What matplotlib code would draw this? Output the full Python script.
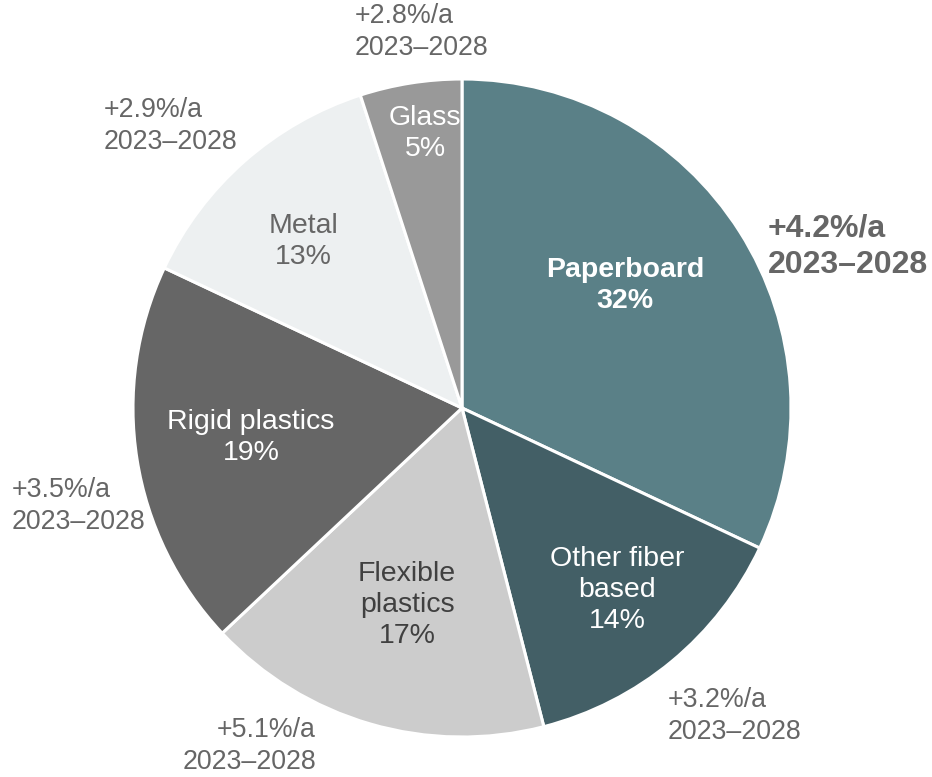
import matplotlib
matplotlib.use("Agg")
import matplotlib.pyplot as plt

# packaging share by material, with growth rate 2023-2028
materials = ["Paperboard", "Other fiber\nbased", "Flexible\nplastics", "Rigid plastics", "Metal", "Glass"]
shares = [32, 14, 17, 19, 13, 5]
growth = ["+4.2%/a", "+3.2%/a", "+5.1%/a", "+3.5%/a", "+2.9%/a", "+2.8%/a"]
period = "2023\u20132028"

colors = ["#5a8087", "#435f66", "#cccccc", "#666666", "#edf0f1", "#999999"]
inner_colors = ["white", "white", "#404040", "white", "#666666", "white"]
gray = "#666666"

plt.rcParams["font.family"] = ["Liberation Sans", "DejaVu Sans"]

fig = plt.figure(figsize=(9.32, 7.77), dpi=100)
ax = fig.add_axes([0, 0, 1, 1])

ax.pie(shares, colors=colors, startangle=90, counterclock=False, radius=1,
       wedgeprops=dict(edgecolor="white", linewidth=2.2))

# label positions in pie-radius units
inner_pos = [(0.495, 0.371), (0.471, -0.553), (-0.167, -0.599),
             (-0.641, -0.091), (-0.483, 0.505), (-0.112, 0.834)]
outer_pos = [(0.930, 0.489, "left"), (0.626, -0.936, "left"), (-0.444, -1.027, "right"),
             (-1.368, -0.298, "left"), (-1.088, 0.857, "left"), (-0.325, 1.143, "left")]

for i, name in enumerate(materials):
    bold = i == 0
    x, y = inner_pos[i]
    ax.text(x, y, "%s\n%d%%" % (name, shares[i]), ha="center", va="center",
            multialignment="center", color=inner_colors[i], fontsize=20.5,
            fontweight="bold" if bold else "normal", linespacing=1.25)
    ox, oy, al = outer_pos[i]
    ax.text(ox, oy, "%s\n%s" % (growth[i], period), ha=al, va="center",
            multialignment=al, color=gray, fontsize=23 if bold else 19.3,
            fontweight="bold" if bold else "normal", linespacing=1.28)

ax.set_xlim(-462 / 329, (932 - 462) / 329)
ax.set_ylim(-(777 - 408) / 329, 408 / 329)
ax.set_aspect("equal")
ax.axis("off")

fig.savefig("out.png", dpi=100, facecolor="white")
